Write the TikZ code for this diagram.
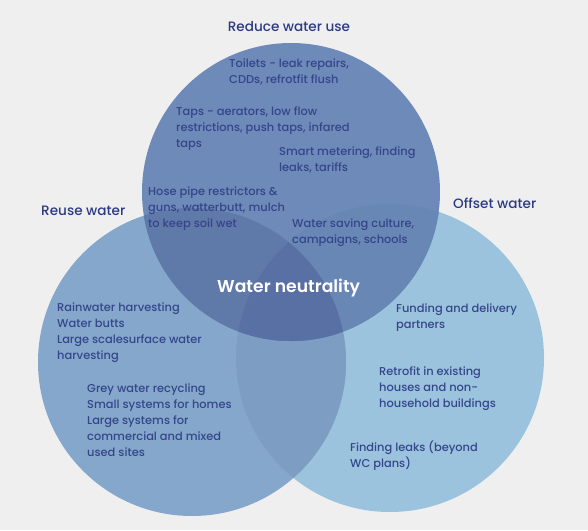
\documentclass[tikz,border=0pt]{standalone}
\usepackage{fontspec}
\setmainfont{Poppins}[UprightFont=* Medium, BoldFont=* SemiBold]
\definecolor{bg}{HTML}{EFEFEF}
\definecolor{cT}{HTML}{6D8AB8}
\definecolor{cL}{HTML}{85A7CB}
\definecolor{cR}{HTML}{9CC3DD}
\definecolor{cLR}{HTML}{7E9DC2}
\definecolor{cTL}{HTML}{5F79A9}
\definecolor{cTR}{HTML}{6987B5}
\definecolor{cTLR}{HTML}{5870A3}
\definecolor{txt}{HTML}{34458A}
\definecolor{head}{HTML}{2C3B80}
\tikzset{
  body/.style={anchor=west, inner sep=0pt, align=left, text=txt, font=\fontsize{11.4}{16}\selectfont},
  heading/.style={inner sep=0pt, text=head, font=\fontsize{13.6}{15}\selectfont},
  centre/.style={inner sep=0pt, text=white, font=\fontsize{17.2}{18}\selectfont\bfseries}
}
\begin{document}
\begin{tikzpicture}[x=1pt,y=-1pt]
\fill[bg] (0,0) rectangle (588,530);
\useasboundingbox (0,0) rectangle (588,530);
\def\circT{(291,192) circle (149)}
\def\circL{(192,362) circle (154)}
\def\circR{(390,358) circle (154)}
\fill[cR] \circR;
\fill[cL] \circL;
\begin{scope}\clip \circL; \fill[cLR] \circR; \end{scope}
\fill[cT] \circT;
\begin{scope}\clip \circT; \fill[cTL] \circL; \fill[cTR] \circR; \clip \circL; \fill[cTLR] \circR; \end{scope}

\node[heading] (reduce) at (289,27) {Reduce water use};
\node[heading, anchor=west] (reuse) at (41,211) {Reuse water};
\node[heading, anchor=west] (offset) at (453,203) {Offset water};
\node[centre, anchor=west] (wn) at (217,288) {Water neutrality};

\node[body] (toilets) at (229,72) {Toilets - leak repairs,\\CDDs, refrotfit flush};
\node[body] (taps) at (176,129) {Taps - aerators, low flow\\restrictions, push taps, infared\\taps};
\node[body] (smart) at (279,160) {Smart metering, finding\\leaks, tariffs};
\node[body] (hose) at (148,209) {Hose pipe restrictors \&\\guns, watterbutt, mulch\\to keep soil wet};
\node[body] (culture) at (292,233) {Water saving culture,\\campaigns, schools};

\node[body] (rain) at (57,333) {Rainwater harvesting\\Water butts\\Large scalesurface water\\harvesting};
\node[body] (grey) at (87,420) {Grey water recycling\\Small systems for homes\\Large systems for\\commercial and mixed\\used sites};

\node[body] (fund) at (396,318) {Funding and delivery\\partners};
\node[body] (retro) at (379,389) {Retrofit in existing\\houses and non-\\household buildings};
\node[body] (leaks) at (350,456) {Finding leaks (beyond\\WC plans)};
\end{tikzpicture}
\end{document}
